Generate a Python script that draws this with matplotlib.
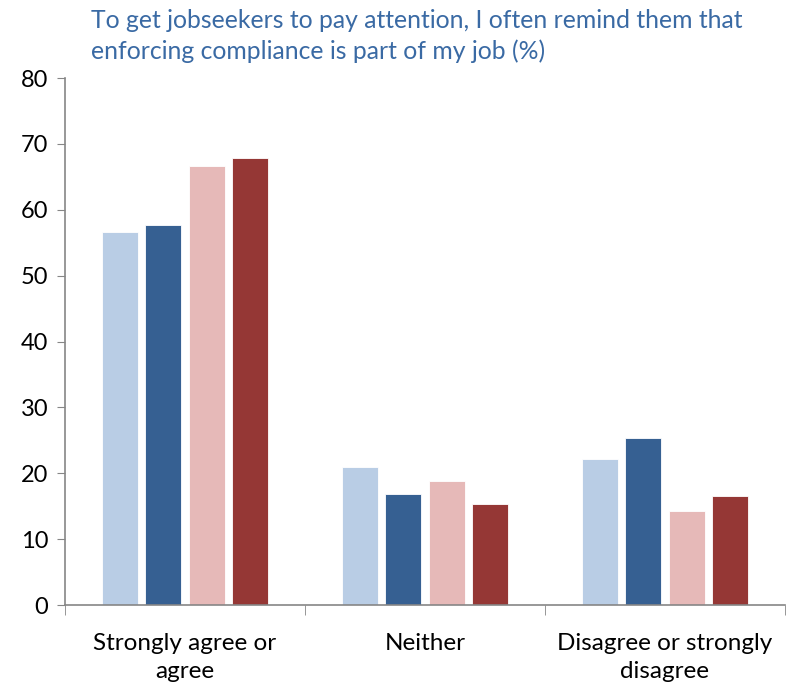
import matplotlib.pyplot as plt
import numpy as np

plt.rcParams['font.family'] = ['Lato', 'DejaVu Sans']

categories = ['Strongly agree or\nagree', 'Neither', 'Disagree or strongly\ndisagree']
series1 = [56.6, 20.9, 22.2]
series2 = [57.7, 16.8, 25.3]
series3 = [66.6, 18.9, 14.2]
series4 = [67.9, 15.4, 16.5]
colors = ['#B9CDE5', '#366092', '#E6B9B8', '#953735']

fig = plt.figure(figsize=(7.88, 6.88), dpi=100)
ax = fig.add_axes([0.0825, 0.1206, 0.9135, 0.766])

x = np.arange(len(categories))
w = 0.15
step = 0.181
for i, (vals, c) in enumerate(zip([series1, series2, series3, series4], colors)):
    ax.bar(x + (i - 1.5) * step, vals, width=w, color=c, edgecolor='white', linewidth=0.6)

ax.set_xlim(-0.5, 2.5)
ax.set_ylim(0, 80)
ax.set_yticks(range(0, 81, 10))
ax.tick_params(axis='y', labelsize=17, length=6, color='#868686', pad=6)
ax.set_xticks(x)
ax.set_xticklabels(categories, fontsize=17.5, linespacing=1.4)
ax.tick_params(axis='x', length=0, pad=20)
ax.set_xticks([-0.5, 0.5, 1.5, 2.5], minor=True)
ax.tick_params(axis='x', which='minor', length=7, color='#868686')

for s in ['top', 'right']:
    ax.spines[s].set_visible(False)
for s in ['left', 'bottom']:
    ax.spines[s].set_color('#868686')
    ax.spines[s].set_linewidth(1.2)

fig.text(91 / 788, 1 - 9 / 688,
         'To get jobseekers to pay attention, I often remind them that\nenforcing compliance is part of my job (%)',
         color='#3A6AA4', fontsize=17.8, va='top', ha='left', linespacing=1.38)

fig.savefig('out.png', dpi=100)
